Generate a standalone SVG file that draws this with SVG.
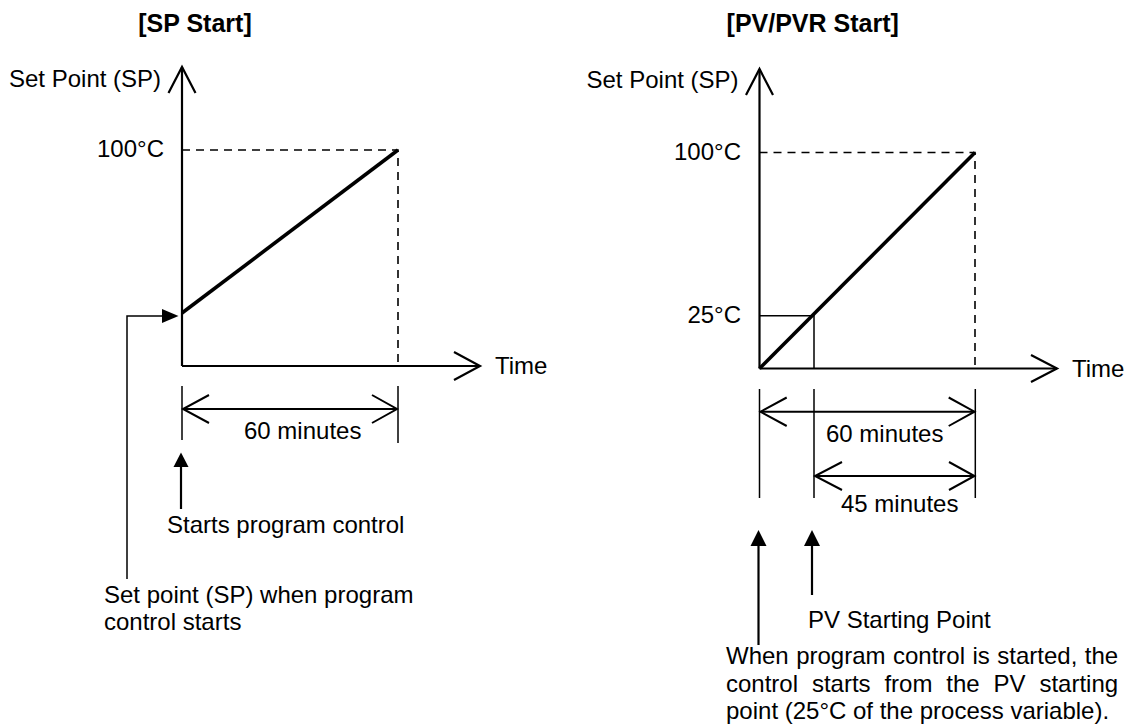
<svg xmlns="http://www.w3.org/2000/svg" width="1125" height="724" viewBox="0 0 1125 724">
<defs>
<style>
text{font-family:"Liberation Sans",Arial,sans-serif;font-size:24px;fill:#000}
.title{font-weight:bold;font-size:25px;text-anchor:middle}
.end{text-anchor:end}
.ax{stroke:#000;stroke-width:2.2;fill:none}
.sp{stroke:#000;stroke-width:3.6;fill:none}
.dash{stroke:#000;stroke-width:1.6;stroke-dasharray:8,6;fill:none}
.thin{stroke:#000;stroke-width:1.5;fill:none}
.dim{stroke:#000;stroke-width:2;fill:none}
.tri{fill:#000;stroke:none}
</style>
</defs>
<rect width="1125" height="724" fill="#fff"/>

<!-- Left diagram: SP Start -->
<g id="left-title"><text class="title" x="195" y="32">[SP Start]</text></g>
<g id="left-axes">
<line class="ax" x1="182" y1="366" x2="182" y2="67"/>
<polyline class="ax" points="168.5,93 182,67 195.5,93"/>
<line class="ax" x1="182" y1="366" x2="480" y2="366"/>
<polyline class="ax" points="454,352 480,366 454,380"/>
<text x="9" y="87">Set Point (SP)</text>
<text x="495" y="374">Time</text>
<text class="end" x="164" y="157">100°C</text>
</g>
<g id="left-guides">
<polyline class="dash" points="182,150 398,150 398,366"/>
</g>
<g id="left-sp-line"><line class="sp" x1="182" y1="313" x2="398" y2="150"/></g>
<g id="left-dimension">
<line class="thin" x1="182" y1="386" x2="182" y2="440"/>
<line class="thin" x1="398" y1="386" x2="398" y2="443"/>
<line class="dim" x1="183" y1="409" x2="397" y2="409"/>
<polyline class="dim" points="209,395 183,409 209,423"/>
<polyline class="dim" points="372,395 397,409 372,423"/>
<text x="244" y="439">60 minutes</text>
</g>
<g id="left-start-label">
<text x="167" y="533">Starts program control</text>
</g>
<g id="left-sp-label">
<text x="104" y="602.5">Set point (SP) when program</text>
<text x="104" y="630">control starts</text>
</g>

<!-- Right diagram: PV/PVR Start -->
<g id="right-title"><text class="title" x="812.7" y="32">[PV/PVR Start]</text></g>
<g id="right-axes">
<line class="ax" x1="759.5" y1="368.5" x2="759.5" y2="69"/>
<polyline class="ax" points="746,95 759.5,69 773,95"/>
<line class="ax" x1="759.5" y1="368.5" x2="1057" y2="368.5"/>
<polyline class="ax" points="1031,355 1057,368.5 1031,382"/>
<text x="586.5" y="88">Set Point (SP)</text>
<text x="1072" y="377">Time</text>
<text class="end" x="741" y="159.5">100°C</text>
<text class="end" x="741" y="323">25°C</text>
</g>
<g id="right-guides">
<polyline class="dash" points="759.5,152.5 975,152.5 975,368.5"/>
<polyline class="thin" points="759.5,315.7 814,315.7 814,368.5"/>
</g>
<g id="right-sp-line"><line class="sp" x1="759.5" y1="368.5" x2="975" y2="152.5"/></g>
<g id="right-dimension-60">
<line class="thin" x1="759.5" y1="389" x2="759.5" y2="498"/>
<line class="thin" x1="814" y1="389" x2="814" y2="498"/>
<line class="thin" x1="975.3" y1="389" x2="975.3" y2="498"/>
<line class="dim" x1="760.5" y1="411.7" x2="974.5" y2="411.7"/>
<polyline class="dim" points="786.7,397.5 760.5,411.7 786.7,426"/>
<polyline class="dim" points="948.7,397.5 974.5,411.7 948.7,426"/>
<text x="826" y="442">60 minutes</text>
</g>
<g id="right-dimension-45">
<line class="dim" x1="815" y1="476" x2="974.5" y2="476"/>
<polyline class="dim" points="842,462 815,476 842,490"/>
<polyline class="dim" points="949,462 974.5,476 949,490"/>
<text x="841" y="512">45 minutes</text>
</g>
<g id="right-pv-label">
<text x="808" y="628">PV Starting Point</text>
</g>
<g id="right-note">
<text x="726" y="664" word-spacing="0.8">When program control is started, the</text>
<text x="726" y="691.5" word-spacing="7.2">control starts from the PV starting</text>
<text x="726" y="719">point (25°C of the process variable).</text>
</g>

<!-- Connectors -->
<g id="connectors">
<path class="thin" d="M127,579 V316 H164"/>
<polygon class="tri" points="162,309 178.5,316 162,323"/>
<line class="ax" x1="181" y1="509" x2="181" y2="466"/>
<polygon class="tri" points="173.5,467 181,452.5 188.5,467"/>
<line class="ax" x1="758.5" y1="645" x2="758.5" y2="545"/>
<polygon class="tri" points="750.5,546 758.5,530 766.5,546"/>
<line class="ax" x1="812" y1="595" x2="812" y2="545"/>
<polygon class="tri" points="804,546 812,530 820,546"/>
</g>
</svg>
